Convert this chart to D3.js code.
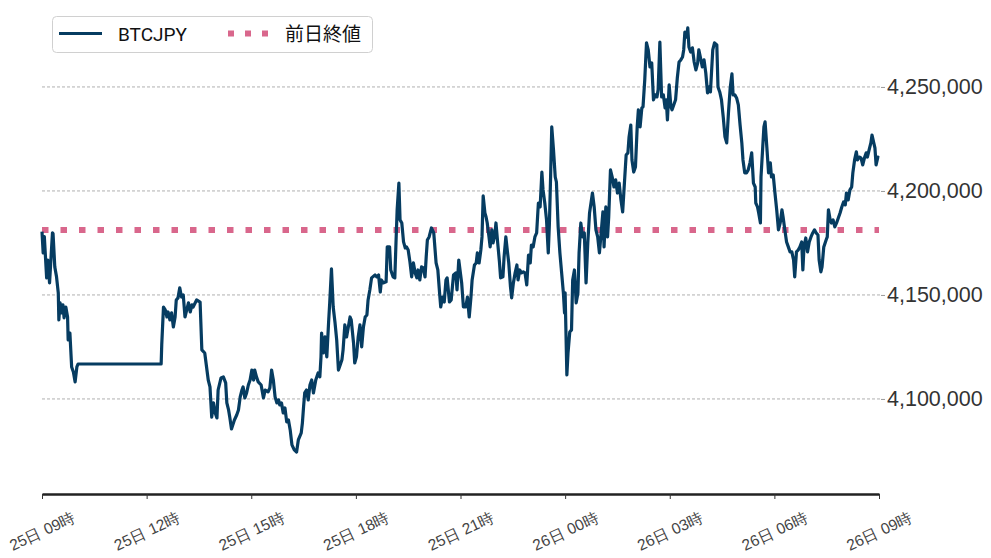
<!DOCTYPE html>
<html>
<head>
<meta charset="utf-8">
<script src="https://cdn.jsdelivr.net/npm/d3@7"></script>
<style>
  body { margin: 0; background: #fff; }
  svg { display: block; font-family: Roboto, "Noto Sans CJK JP", sans-serif; }
</style>
</head>
<body>
<div id="chart"></div>
<script>
// minutes after 25日 09:00
const minutes = [
  0,2,4,8,10,13,15,18,19,22,25,28,29,31,34,36,38,41,44,45,48,51,54,57,60,62,205,206,209,212,
  215,217,220,223,226,229,231,234,237,240,243,246,249,252,255,258,260,266,272,275,280,286,289,292,295,298,301,303,308,312,
  316,318,321,323,326,331,335,338,341,344,346,349,352,355,358,361,364,366,369,372,377,381,384,389,392,395,398,401,404,407,
  409,412,415,418,421,424,427,430,434,438,441,446,448,450,452,455,458,461,464,467,471,475,478,480,481,484,487,490,493,495,
  498,501,504,507,510,513,516,518,521,524,527,530,532,536,538,541,544,547,550,553,556,559,561,564,567,573,576,579,582,584,
  587,592,594,598,600,604,607,609,611,614,616,619,622,625,627,630,633,636,639,642,645,647,650,653,656,659,661,663,666,670,
  674,678,681,684,686,689,692,695,697,701,704,708,712,714,717,722,725,729,732,735,738,740,744,747,749,752,755,757,759,762,
  764,766,769,771,774,776,779,781,784,787,789,793,795,798,801,803,806,808,811,814,817,819,822,825,828,831,834,837,840,842,
  845,848,851,854,857,860,862,865,868,871,873,875,877,880,883,885,888,891,894,897,899,900,903,905,908,911,913,916,919,922,
  924,927,930,933,936,939,942,947,950,953,956,959,962,965,967,970,973,975,978,981,984,987,990,993,996,999,1002,1005,1008,1010,
  1013,1015,1018,1021,1024,1026,1029,1032,1034,1037,1040,1043,1046,1049,1052,1055,1058,1060,1063,1066,1069,1072,1074,1076,1079,1082,1084,1087,1090,1093,
  1096,1099,1102,1104,1106,1109,1111,1113,1116,1119,1122,1125,1128,1130,1133,1136,1139,1142,1145,1148,1150,1154,1157,1161,1163,1166,1169,1172,1175,1178,
  1181,1184,1187,1189,1192,1195,1198,1201,1204,1206,1209,1212,1215,1218,1221,1224,1227,1228,1231,1233,1236,1237,1240,1242,1244,1247,1250,1253,1255,1258,
  1261,1264,1267,1270,1273,1275,1278,1281,1284,1287,1290,1293,1295,1298,1301,1304,1307,1309,1311,1314,1317,1320,1323,1326,1329,1332,1335,1337,1340,1342,
  1345,1349,1351,1353,1356,1358,1361,1364,1367,1370,1373,1376,1379,1382,1384,1387,1390,1393,1395,1398,1401,1403,1406,1409,1412,1415,1418,1420,1423,1426,
  1428,1431,1433,1435,1438,1439
];

const prices = [
  4180400,4170200,4178000,4158200,4166800,4155800,4165400,4179800,4179500,4163500,4158700,4151000,4138000,4146200,4141400,4145200,4139000,4144200,4139400,4128400,
  4131700,4115400,4113000,4108200,4115400,4116800,4116800,4126000,4144200,4142800,
  4139400,4141800,4138000,4141400,4134600,4139400,4147600,4148600,4153400,4149000,4150000,4139400,4142800,4146200,4141800,4145200,4144200,4147600,4146600,4123600,
  4122100,4109100,4105800,4091300,4098100,4093300,4090900,4104300,4110100,4110600,
  4107700,4098100,4094700,4091300,4085600,4089900,4092300,4094700,4101000,4104300,4105800,4100500,4102900,4106700,4109100,4113900,4109100,4113900,4110600,4108200,
  4106700,4100500,4104300,4103400,4105300,4113900,4109100,4101000,4098100,4099500,
  4097100,4098100,4093300,4095700,4089000,4089900,4085100,4077900,4075500,4074500,4080300,4083700,4088500,4096200,4102900,4104300,4099500,4106700,4109100,4102900,
  4109100,4112500,4110600,4120200,4131700,4122100,4129800,4120200,4136500,4146200,
  4162500,4144200,4137000,4128400,4113900,4116300,4118800,4123600,4135600,4129800,4134600,4139400,4138000,4126900,4117300,4120200,4129800,4135600,4125000,4134600,
  4139400,4140400,4147600,4152400,4158200,4159600,4158700,4159600,4151400,4157200,
  4155800,4156300,4173100,4173100,4162000,4158700,4158200,4175000,4190900,4203800,4186100,4184600,4175500,4172600,4173100,4171600,4165900,4158700,4165400,4160600,
  4158200,4162000,4157200,4163500,4163000,4158700,4168300,4176400,4177900,4182200,
  4179800,4165400,4162000,4151000,4144200,4149000,4146600,4157200,4158200,4146600,4147600,4159600,4160600,4152400,4166800,4155800,4144200,4144200,4149000,4139400,
  4149000,4157200,4164400,4165400,4170200,4165400,4171600,4177900,4197600,4189400,
  4187500,4184600,4177900,4173100,4181300,4175000,4178800,4184600,4175000,4165900,4158200,4158700,4168300,4177900,4170200,4165400,4153900,4148600,4155800,4160600,
  4164400,4157200,4162000,4160600,4161100,4160600,4154800,4169200,4165400,4174000,
  4173100,4177900,4179800,4194200,4192300,4209100,4200500,4194200,4186100,4170200,4184600,4206700,4230800,4219700,4206700,4204300,4182700,4170200,4160600,4151000,
  4141400,4151000,4111500,4122100,4132200,4133200,4157200,4162000,4146200,4151000,
  4170200,4184600,4177900,4179800,4155800,4175000,4189400,4199000,4192300,4181300,4177900,4170200,4179800,4189900,4173100,4192300,4177900,4187500,4210100,4206700,
  4201900,4205300,4199000,4203800,4195700,4189900,4203800,4217300,4218300,4226000,
  4231700,4214900,4209100,4211500,4230800,4239000,4230800,4239900,4240400,4253400,4271200,4267800,4259600,4261500,4243800,4246200,4245200,4248600,4271600,4245200,
  4246200,4239900,4243800,4234100,4251000,4240400,4239000,4241400,4243800,4254300,
  4262000,4263000,4264400,4267800,4276400,4274000,4278400,4269200,4266800,4268800,4262000,4258200,4261500,4267800,4263900,4259600,4263000,4256700,4247100,4250000,
  4247600,4267800,4271200,4270200,4250000,4247600,4243800,4235600,4226000,4223100,
  4237500,4249500,4256300,4246200,4246200,4244700,4241400,4231700,4223100,4214900,4208700,4208700,4210100,4213500,4218300,4203800,4201900,4194200,4192300,4189400,
  4184600,4206700,4221200,4230800,4233200,4221200,4208700,4213500,4206700,4207700,
  4199000,4190900,4181300,4184600,4190900,4187500,4181300,4175500,4173100,4170700,4170700,4166800,4158700,4170700,4171600,4173100,4175500,4162000,4173100,4177400,
  4170700,4175500,4177900,4179800,4181300,4179800,4178800,4166800,4161100,4163500,
  4173100,4176400,4177900,4190900,4186100,4184600,4186100,4182700,4184600,4187000,4189400,4192300,4194700,4193300,4199000,4195700,4200500,4201900,4208700,4214900,
  4218800,4214900,4216300,4215900,4212500,4215900,4218300,4216300,4219700,4223100,
  4226900,4223100,4220700,4212500,4216300,4215900
];

const prevClose = 4181250;
const yTicks = [4100000, 4150000, 4200000, 4250000];
const seriesNames = ["BTCJPY", "前日終値"];
const spanHours = 24;

const W = 991, H = 558;
const plotLeft = 42, plotRight = 879, plotTop = 0, plotBottom = 494;
const lineColor = "#063c61", closeColor = "#d9678c";

const start = new Date(2024, 0, 25, 9, 0);
const end = d3.timeHour.offset(start, spanHours);
const data = minutes.map((m, i) => ({ t: d3.timeMinute.offset(start, m), v: prices[i] }));

const x = d3.scaleTime().domain([start, end]).range([plotLeft, plotRight]);
const y = d3.scaleLinear().domain([4054300, 4291800]).range([plotBottom, plotTop]);

const svg = d3.select("#chart").append("svg")
  .attr("width", W).attr("height", H);

// gridlines
svg.append("g")
  .selectAll("line")
  .data(yTicks)
  .join("line")
  .attr("x1", plotLeft).attr("x2", plotRight + 3)
  .attr("y1", d => y(d)).attr("y2", d => y(d))
  .attr("stroke", "#b0b0b0")
  .attr("stroke-width", 1)
  .attr("stroke-dasharray", "3,2");

// y axis on the right
const yAxis = svg.append("g")
  .attr("transform", `translate(${plotRight + 2},0)`)
  .call(d3.axisRight(y).tickValues(yTicks).tickSize(4).tickPadding(2).tickFormat(d3.format(",")));
yAxis.select(".domain").remove();
yAxis.selectAll(".tick line").attr("stroke", "#999");
yAxis.selectAll(".tick text")
  .attr("fill", "#333")
  .style("font-size", "21.5px");

// previous close
svg.append("line")
  .attr("x1", plotLeft).attr("x2", plotRight)
  .attr("y1", y(prevClose)).attr("y2", y(prevClose))
  .attr("stroke", closeColor)
  .attr("stroke-width", 6)
  .attr("stroke-dasharray", "6.5,12");

// price line
const line = d3.line()
  .x(d => x(d.t))
  .y(d => y(d.v));

svg.append("path")
  .datum(data)
  .attr("d", line)
  .attr("fill", "none")
  .attr("stroke", lineColor)
  .attr("stroke-width", 3.2)
  .attr("stroke-linejoin", "round");

// x axis
const xAxis = svg.append("g")
  .attr("transform", `translate(0,${plotBottom})`)
  .call(d3.axisBottom(x)
    .ticks(d3.timeHour.every(3))
    .tickSize(5)
    .tickSizeOuter(0)
    .tickFormat(d3.timeFormat("%d日 %H時")));
xAxis.select(".domain").attr("stroke", "#222").attr("stroke-width", 2.5);
xAxis.selectAll(".tick line").attr("stroke", "#333");
xAxis.selectAll(".tick text")
  .attr("fill", "#444")
  .attr("y", 0).attr("dy", 0)
  .attr("text-anchor", "middle")
  .attr("dominant-baseline", "central")
  .attr("transform", "translate(0,37) rotate(-25)")
  .style("font-size", "15.5px");

// legend
const legend = svg.append("g");
legend.append("rect")
  .attr("x", 52.5).attr("y", 16.5)
  .attr("width", 320).attr("height", 36)
  .attr("rx", 4)
  .attr("fill", "#fff")
  .attr("stroke", "#d0d0d0");
legend.append("line")
  .attr("x1", 59).attr("x2", 102).attr("y1", 33.5).attr("y2", 33.5)
  .attr("stroke", lineColor).attr("stroke-width", 3);
legend.append("text")
  .attr("x", 118).attr("y", 34.5)
  .attr("dominant-baseline", "central")
  .attr("fill", "#111")
  .style("font-size", "19px")
  .text(seriesNames[0]);
legend.append("line")
  .attr("x1", 228).attr("x2", 269).attr("y1", 33.5).attr("y2", 33.5)
  .attr("stroke", closeColor).attr("stroke-width", 6)
  .attr("stroke-dasharray", "6,11");
legend.append("text")
  .attr("x", 285).attr("y", 34.5)
  .attr("dominant-baseline", "central")
  .attr("fill", "#111")
  .style("font-size", "19px")
  .text(seriesNames[1]);
</script>
</body>
</html>
